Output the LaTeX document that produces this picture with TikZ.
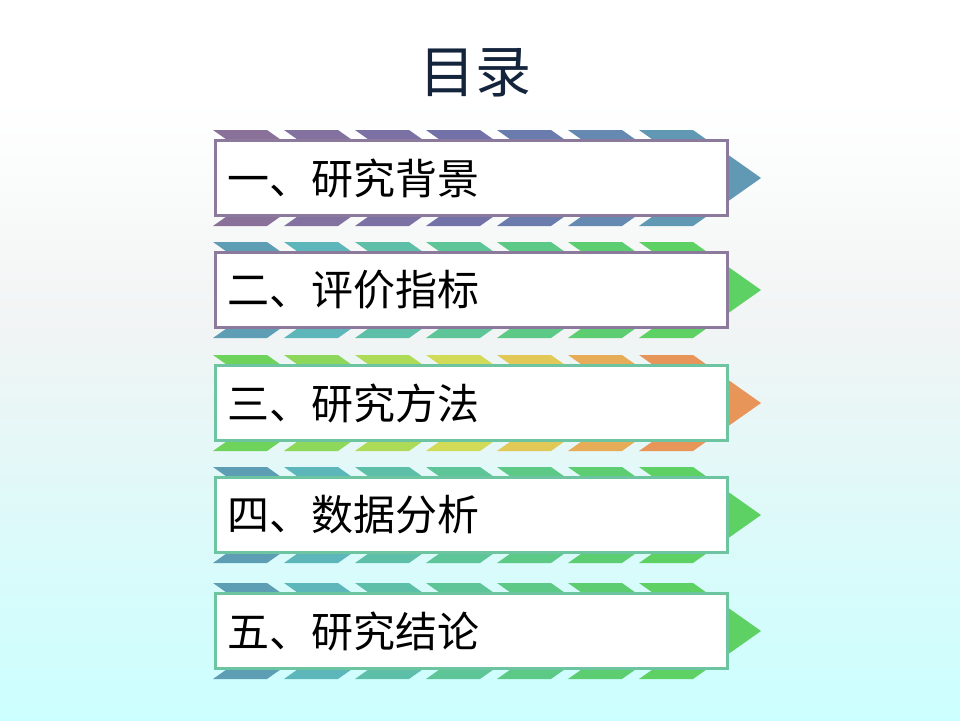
\documentclass[tikz,border=0pt]{standalone}
\usepackage{fontspec}
\newfontfamily\cjk{Noto Sans CJK SC}
% backgrounds
\definecolor{bgbot}{HTML}{CCFFFF}
\definecolor{bglow}{HTML}{D8FBFB}
\definecolor{bgmid}{HTML}{F1F4F4}
\pgfdeclareverticalshading{bgshade}{100bp}{color(0bp)=(bgbot); color(25bp)=(bgbot); color(35bp)=(bglow); color(52bp)=(bgmid); color(68bp)=(white); color(100bp)=(white)}
% palette a (row 1)
\definecolor{ca1}{HTML}{8A7199}
\definecolor{ca2}{HTML}{8372A0}
\definecolor{ca3}{HTML}{7B71A5}
\definecolor{ca4}{HTML}{7272A8}
\definecolor{ca5}{HTML}{6A7CAD}
\definecolor{ca6}{HTML}{6589B1}
\definecolor{ca7}{HTML}{6198B4}
% palette b (rows 2,4,5)
\definecolor{cb1}{HTML}{5E9EB4}
\definecolor{cb2}{HTML}{5DB6BA}
\definecolor{cb3}{HTML}{5EBFA8}
\definecolor{cb4}{HTML}{5DC597}
\definecolor{cb5}{HTML}{5DC986}
\definecolor{cb6}{HTML}{5DCD72}
\definecolor{cb7}{HTML}{5DD163}
% palette c (row 3)
\definecolor{cc1}{HTML}{6DD35B}
\definecolor{cc2}{HTML}{8DD85A}
\definecolor{cc3}{HTML}{AEDB57}
\definecolor{cc4}{HTML}{D2DB58}
\definecolor{cc5}{HTML}{E2C957}
\definecolor{cc6}{HTML}{E6AC57}
\definecolor{cc7}{HTML}{E8955A}
% borders and text
\definecolor{bordpurple}{HTML}{8B7A9B}
\definecolor{bordgreen}{HTML}{6CC4A0}
\definecolor{titlecol}{HTML}{14243C}
\newcommand\chevronrow[2]{%
  \foreach \i in {1,...,7}{%
    \pgfmathsetmacro\xx{213+71*(\i-1)}%
    \fill[fill=c#2\i] (\xx,#1-48) -- ++(54,0) -- ++(68,48) -- ++(-68,48) -- ++(-54,0) -- ++(68,-48) -- cycle;
  }%
}
\tikzset{
  rowbox/.style={draw, fill=white, line width=3pt, minimum height=75pt,
    text width=488pt, inner xsep=12pt, inner ysep=0pt, align=left,
    font=\cjk\fontsize{42}{46}\selectfont, text=black},
  titletext/.style={font=\cjk\fontsize{56}{60}\selectfont, text=titlecol}
}
\begin{document}
\begin{tikzpicture}[x=1pt,y=-1pt]
\useasboundingbox (0,0) rectangle (960,720);
\shade[shading=bgshade] (0,0) rectangle (960,720);
\node[titletext] (title) at (475,73) {目录};
% row 1
\chevronrow{178}{a}
\node[rowbox, draw=bordpurple] (row1) at (471,178) {一、研究背景};
% row 2
\chevronrow{290}{b}
\node[rowbox, draw=bordpurple] (row2) at (471,290) {二、评价指标};
% row 3
\chevronrow{403}{c}
\node[rowbox, draw=bordgreen] (row3) at (471,403) {三、研究方法};
% row 4
\chevronrow{515}{b}
\node[rowbox, draw=bordgreen] (row4) at (471,515) {四、数据分析};
% row 5
\chevronrow{631}{b}
\node[rowbox, draw=bordgreen] (row5) at (471,631) {五、研究结论};
\end{tikzpicture}
\end{document}
